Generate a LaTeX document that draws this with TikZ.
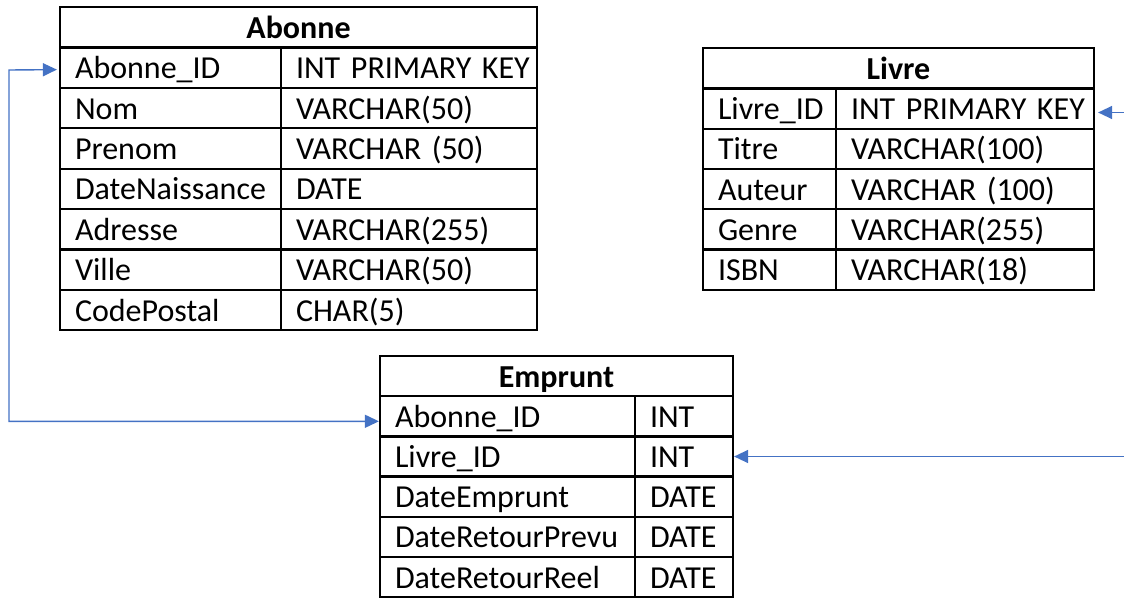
\documentclass[tikz,border=0pt]{standalone}
\usepackage{fontspec}
\setmainfont{Carlito}
\usetikzlibrary{arrows.meta}

\definecolor{linkblue}{HTML}{4472C4}

\tikzset{
  cell/.style={draw, line width=2.2pt, inner sep=0pt, text width=#1,
    minimum height=40.4pt, text height=26pt, text depth=4pt, align=left,
    execute at begin node={\hspace*{15pt}}},
  head/.style={draw, line width=2.2pt, inner sep=0pt, minimum width=#1,
    minimum height=40.4pt, text height=26pt, text depth=4pt,
    font=\fontsize{32}{38}\selectfont\bfseries},
  link/.style={draw=linkblue, line width=1.4pt,
    {Triangle[length=14pt,width=13pt]}-{Triangle[length=14pt,width=13pt]}}
}

\begin{document}
\begin{tikzpicture}[x=1pt, y=-1pt, font=\fontsize{32}{38}\selectfont]

      \useasboundingbox (0,0) rectangle (1124,597);

      % Abonne
      \node[head=477] (ab-h) at (298.5,27.2) {Abonne};
      \begin{scope}[every node/.style={cell=221}]
        \node (ab-1a) at (170.5,67.6)  {Abonne\_ID};
        \node (ab-2a) at (170.5,108)   {Nom};
        \node (ab-3a) at (170.5,148.4) {Prenom};
        \node (ab-4a) at (170.5,188.8) {DateNaissance};
        \node (ab-5a) at (170.5,229.2) {Adresse};
        \node (ab-6a) at (170.5,269.6) {Ville};
        \node (ab-7a) at (170.5,310)   {CodePostal};
      \end{scope}
      \begin{scope}[every node/.style={cell=256}]
        \node (ab-1b) at (409,67.6)  {INT PRIMARY KEY};
        \node (ab-2b) at (409,108)   {VARCHAR(50)};
        \node (ab-3b) at (409,148.4) {VARCHAR (50)};
        \node (ab-4b) at (409,188.8) {DATE};
        \node (ab-5b) at (409,229.2) {VARCHAR(255)};
        \node (ab-6b) at (409,269.6) {VARCHAR(50)};
        \node (ab-7b) at (409,310)   {CHAR(5)};
      \end{scope}

      % Livre
      \node[head=391] (li-h) at (898.5,68.2) {Livre};
      \begin{scope}[every node/.style={cell=133}]
        \node (li-1a) at (769.5,108.5) {Livre\_ID};
        \node (li-2a) at (769.5,148.8) {Titre};
        \node (li-3a) at (769.5,189)   {Auteur};
        \node (li-4a) at (769.5,229.4) {Genre};
        \node (li-5a) at (769.5,269.7) {ISBN};
      \end{scope}
      \begin{scope}[every node/.style={cell=258}]
        \node (li-1b) at (965,108.5) {INT PRIMARY KEY};
        \node (li-2b) at (965,148.8) {VARCHAR(100)};
        \node (li-3b) at (965,189)   {VARCHAR (100)};
        \node (li-4b) at (965,229.4) {VARCHAR(255)};
        \node (li-5b) at (965,269.7) {VARCHAR(18)};
      \end{scope}

      % Emprunt
      \node[head=353] (em-h) at (556.5,376.1) {Emprunt};
      \begin{scope}[every node/.style={cell=255}]
        \node (em-1a) at (507.5,416.3) {Abonne\_ID};
        \node (em-2a) at (507.5,456.5) {Livre\_ID};
        \node (em-3a) at (507.5,496.7) {DateEmprunt};
        \node (em-4a) at (507.5,536.9) {DateRetourPrevu};
        \node (em-5a) at (507.5,577.1) {DateRetourReel};
      \end{scope}
      \begin{scope}[every node/.style={cell=98}]
        \node (em-1b) at (684,416.3) {INT};
        \node (em-2b) at (684,456.5) {INT};
        \node (em-3b) at (684,496.7) {DATE};
        \node (em-4b) at (684,536.9) {DATE};
        \node (em-5b) at (684,577.1) {DATE};
      \end{scope}

      % links
      \coordinate (bend-l) at (9,70);
      \coordinate (bend-r) at (1140,300);
      \path[link, shorten >=2pt] ([yshift=-5pt]em-1a.west) -| (bend-l) -- ([yshift=-2pt]ab-1a.west);
      \path[link, shorten <=3pt] ([yshift=-4pt]li-1b.east) -| (bend-r) |- (em-2b.east);

    \end{tikzpicture}
\end{document}
